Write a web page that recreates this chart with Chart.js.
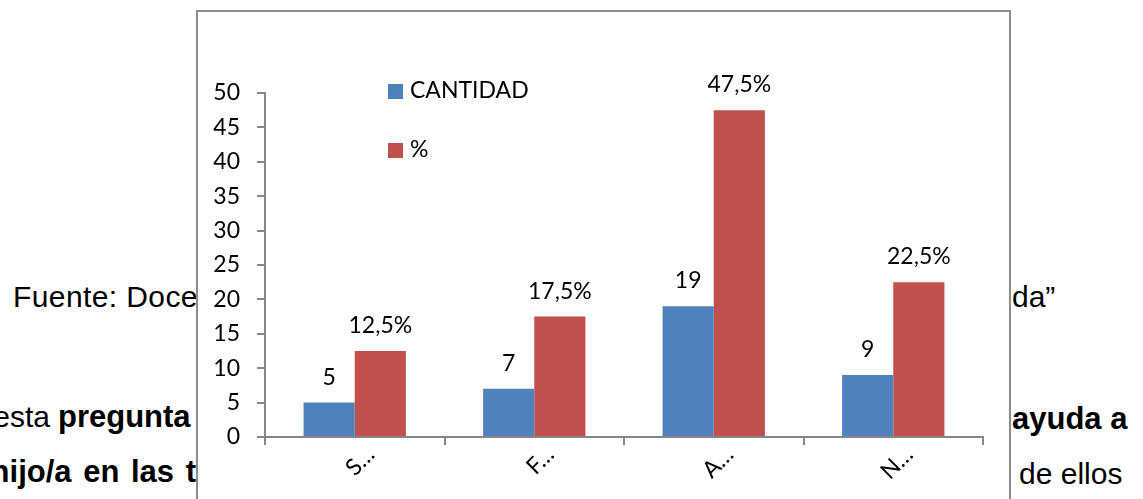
<!DOCTYPE html>
<html>
<head>
<meta charset="utf-8">
<script src="https://cdn.jsdelivr.net/npm/chart.js@4.4.1/dist/chart.umd.min.js"></script>
<style>
  html, body { margin: 0; padding: 0; background: #fff; overflow: hidden; }
  body { width: 1143px; height: 499px; position: relative; }
  .txt {
    position: absolute; font-family: "Liberation Sans", Arial, sans-serif;
    font-size: 30px; line-height: 30px; color: #000; white-space: nowrap;
  }
  .txt b { font-weight: bold; font-size: 31px; }
  #box {
    position: absolute; left: 196px; top: 10px; width: 811px; height: 500px;
    border: 2px solid #8c8c8c; background: #fff; z-index: 2;
  }
  #box canvas { display: block; }
</style>
</head>
<body>
  <!-- document text behind the chart -->
  <div class="txt" style="left:13px; top:282px; letter-spacing:0.4px;">Fuente: Doce</div>
  <div class="txt" style="right:1093px; top:402px;">esta</div>
  <div class="txt" style="left:58px; top:402px;"><b>pregunta</b></div>
  <div class="txt" style="right:947px; top:457px; word-spacing:3px;"><b>hijo/a en las t</b></div>
  <div class="txt" style="left:1012px; top:282px;">da”</div>
  <div class="txt" style="left:1012px; top:404px;"><b>ayuda a</b></div>
  <div class="txt" style="left:1019px; top:459px;">de ellos</div>

  <div id="box"><canvas id="myChart" width="811" height="487"></canvas></div>

<script>
const categorias = ['S…', 'F…', 'A…', 'N…'];
const cantidad = [5, 7, 19, 9];
const porcentaje = [12.5, 17.5, 47.5, 22.5];
const ejeY = { min: 0, max: 50, paso: 5 };

const AZUL = '#4f81bd';
const ROJO = '#c0504d';
const GRIS = '#868686';

Chart.defaults.font.family = 'Lato';
Chart.defaults.font.size = 23;
Chart.defaults.color = '#000';

// labels above each bar
const etiquetas = {
  id: 'etiquetas',
  afterDatasetsDraw(chart) {
    const ctx = chart.ctx;
    ctx.save();
    ctx.font = '23px Lato';
    ctx.fillStyle = '#000';
    ctx.textAlign = 'center';
    ctx.textBaseline = 'alphabetic';
    chart.data.datasets.forEach((ds, i) => {
      chart.getDatasetMeta(i).data.forEach((bar, j) => {
        const v = ds.data[j];
        const txt = i === 0 ? String(v) : String(v).replace('.', ',') + '%';
        ctx.fillText(txt, bar.x, bar.y - 18);
      });
    });
    ctx.restore();
  }
};

// legend drawn inside the plot area
const leyenda = {
  id: 'leyenda',
  afterDraw(chart) {
    const ctx = chart.ctx;
    ctx.save();
    ctx.font = '23px Lato';
    ctx.textBaseline = 'alphabetic';
    chart.data.datasets.forEach((ds, i) => {
      const y = 72 + i * 59;
      ctx.fillStyle = ds.backgroundColor;
      ctx.fillRect(190, y, 15, 15);
      ctx.fillStyle = '#000';
      ctx.fillText(ds.label, 212, y + 14);
    });
    ctx.restore();
  }
};

new Chart(document.getElementById('myChart').getContext('2d'), {
  type: 'bar',
  data: {
    labels: categorias,
    datasets: [
      { label: 'CANTIDAD', data: cantidad, backgroundColor: AZUL },
      { label: '%', data: porcentaje, backgroundColor: ROJO }
    ]
  },
  options: {
    responsive: false,
    animation: false,
    devicePixelRatio: 1,
    categoryPercentage: 0.57,
    barPercentage: 1.0,
    layout: { padding: { left: 0, top: 81, right: 26, bottom: 0 } },
    plugins: { legend: { display: false }, tooltip: { enabled: false } },
    scales: {
      x: {
        afterFit(axis) { axis.height = 62; },
        grid: { display: true, offset: true, drawOnChartArea: false, drawTicks: true, tickLength: 8, color: GRIS, lineWidth: 2 },
        border: { display: true, color: GRIS, width: 2 },
        ticks: { autoSkip: false, minRotation: 45, maxRotation: 45, padding: -4, labelOffset: 16 }
      },
      y: {
        min: ejeY.min,
        max: ejeY.max,
        afterFit(axis) { axis.width = 67; },
        grid: { display: true, drawOnChartArea: false, drawTicks: true, tickLength: 8, color: GRIS, lineWidth: 2 },
        border: { display: true, color: GRIS, width: 2 },
        ticks: { stepSize: ejeY.paso, padding: 17 }
      }
    }
  },
  plugins: [etiquetas, leyenda]
});
</script>
</body>
</html>
